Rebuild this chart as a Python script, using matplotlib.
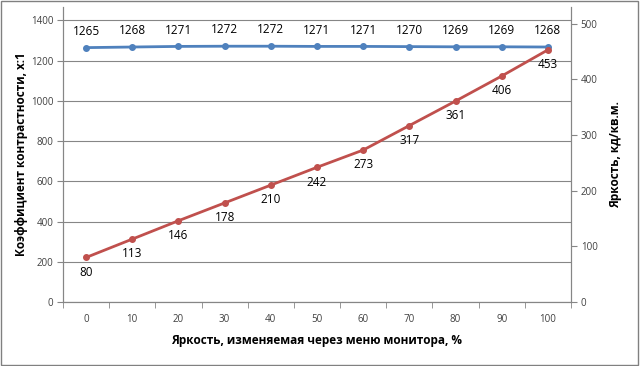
import numpy as np
import matplotlib
matplotlib.use("Agg")
import matplotlib.pyplot as plt
from matplotlib.patches import Rectangle

plt.rcParams['font.family'] = ['Open Sans', 'DejaVu Sans']

# данные
menu_brightness = [0, 10, 20, 30, 40, 50, 60, 70, 80, 90, 100]
contrast = [1265, 1268, 1271, 1272, 1272, 1271, 1271, 1270, 1269, 1269, 1268]
luminance = [80, 113, 146, 178, 210, 242, 273, 317, 361, 406, 453]

BLUE = "#4F81BD"
RED = "#C0504D"
GRID = "#868686"

fig = plt.figure(figsize=(6.4, 3.66), dpi=100)
ax = fig.add_axes([63 / 640, 64 / 366, 508 / 640, 295 / 366])
ax2 = ax.twinx()

x = np.arange(len(menu_brightness))

ax.plot(x, contrast, color=BLUE, lw=2, marker="o", ms=4, zorder=3)
ax2.plot(x, luminance, color=RED, lw=2, marker="o", ms=4, zorder=3)

for xi, v in zip(x, contrast):
    ax.annotate(str(v), (xi, v), xytext=(0, 7), textcoords="offset points",
                ha="center", va="bottom", fontsize=8.5, color="black")
for xi, v in zip(x, luminance):
    ax2.annotate(str(v), (xi, v), xytext=(0, -6), textcoords="offset points",
                 ha="center", va="top", fontsize=8.5, color="black")

ax.set_xlim(-0.5, len(x) - 0.5)
ax.set_ylim(0, 1467)
ax2.set_ylim(0, 530)
ax.set_yticks(range(0, 1401, 200))
ax2.set_yticks(range(0, 501, 100))

ax.set_xticks(x)
ax.set_xticklabels([str(m) for m in menu_brightness])
ax.set_xticks(np.arange(-0.5, len(x), 1), minor=True)
ax.tick_params(axis="x", which="major", length=0, pad=9, labelsize=7, labelcolor="#404040")
ax.tick_params(axis="x", which="minor", length=4, color=GRID, direction="out")
ax.tick_params(axis="y", length=4, color=GRID, labelsize=7, labelcolor="#404040", pad=3)
ax2.tick_params(axis="y", length=4, color=GRID, labelsize=7, labelcolor="#404040", pad=3)

ax.yaxis.grid(True, color=GRID, lw=0.8)
ax.set_axisbelow(True)

for a in (ax, ax2):
    a.spines["top"].set_visible(False)
    for s in ("left", "right", "bottom"):
        a.spines[s].set_color(GRID)
        a.spines[s].set_linewidth(0.8)

ax.set_xlabel("Яркость, изменяемая через меню монитора, %", fontsize=8.5,
              fontweight="bold", labelpad=6)
ax.set_ylabel("Коэффициент контрастности, x:1", fontsize=8.5, fontweight="bold", labelpad=2)
ax2.set_ylabel("Яркость, кд/кв.м.", fontsize=8.5, fontweight="bold", labelpad=8)

fig.patches.append(Rectangle((0.002, 0.003), 0.995, 0.994, transform=fig.transFigure,
                             fill=False, edgecolor="#808080", lw=1))

fig.savefig("out.png", dpi=100)
